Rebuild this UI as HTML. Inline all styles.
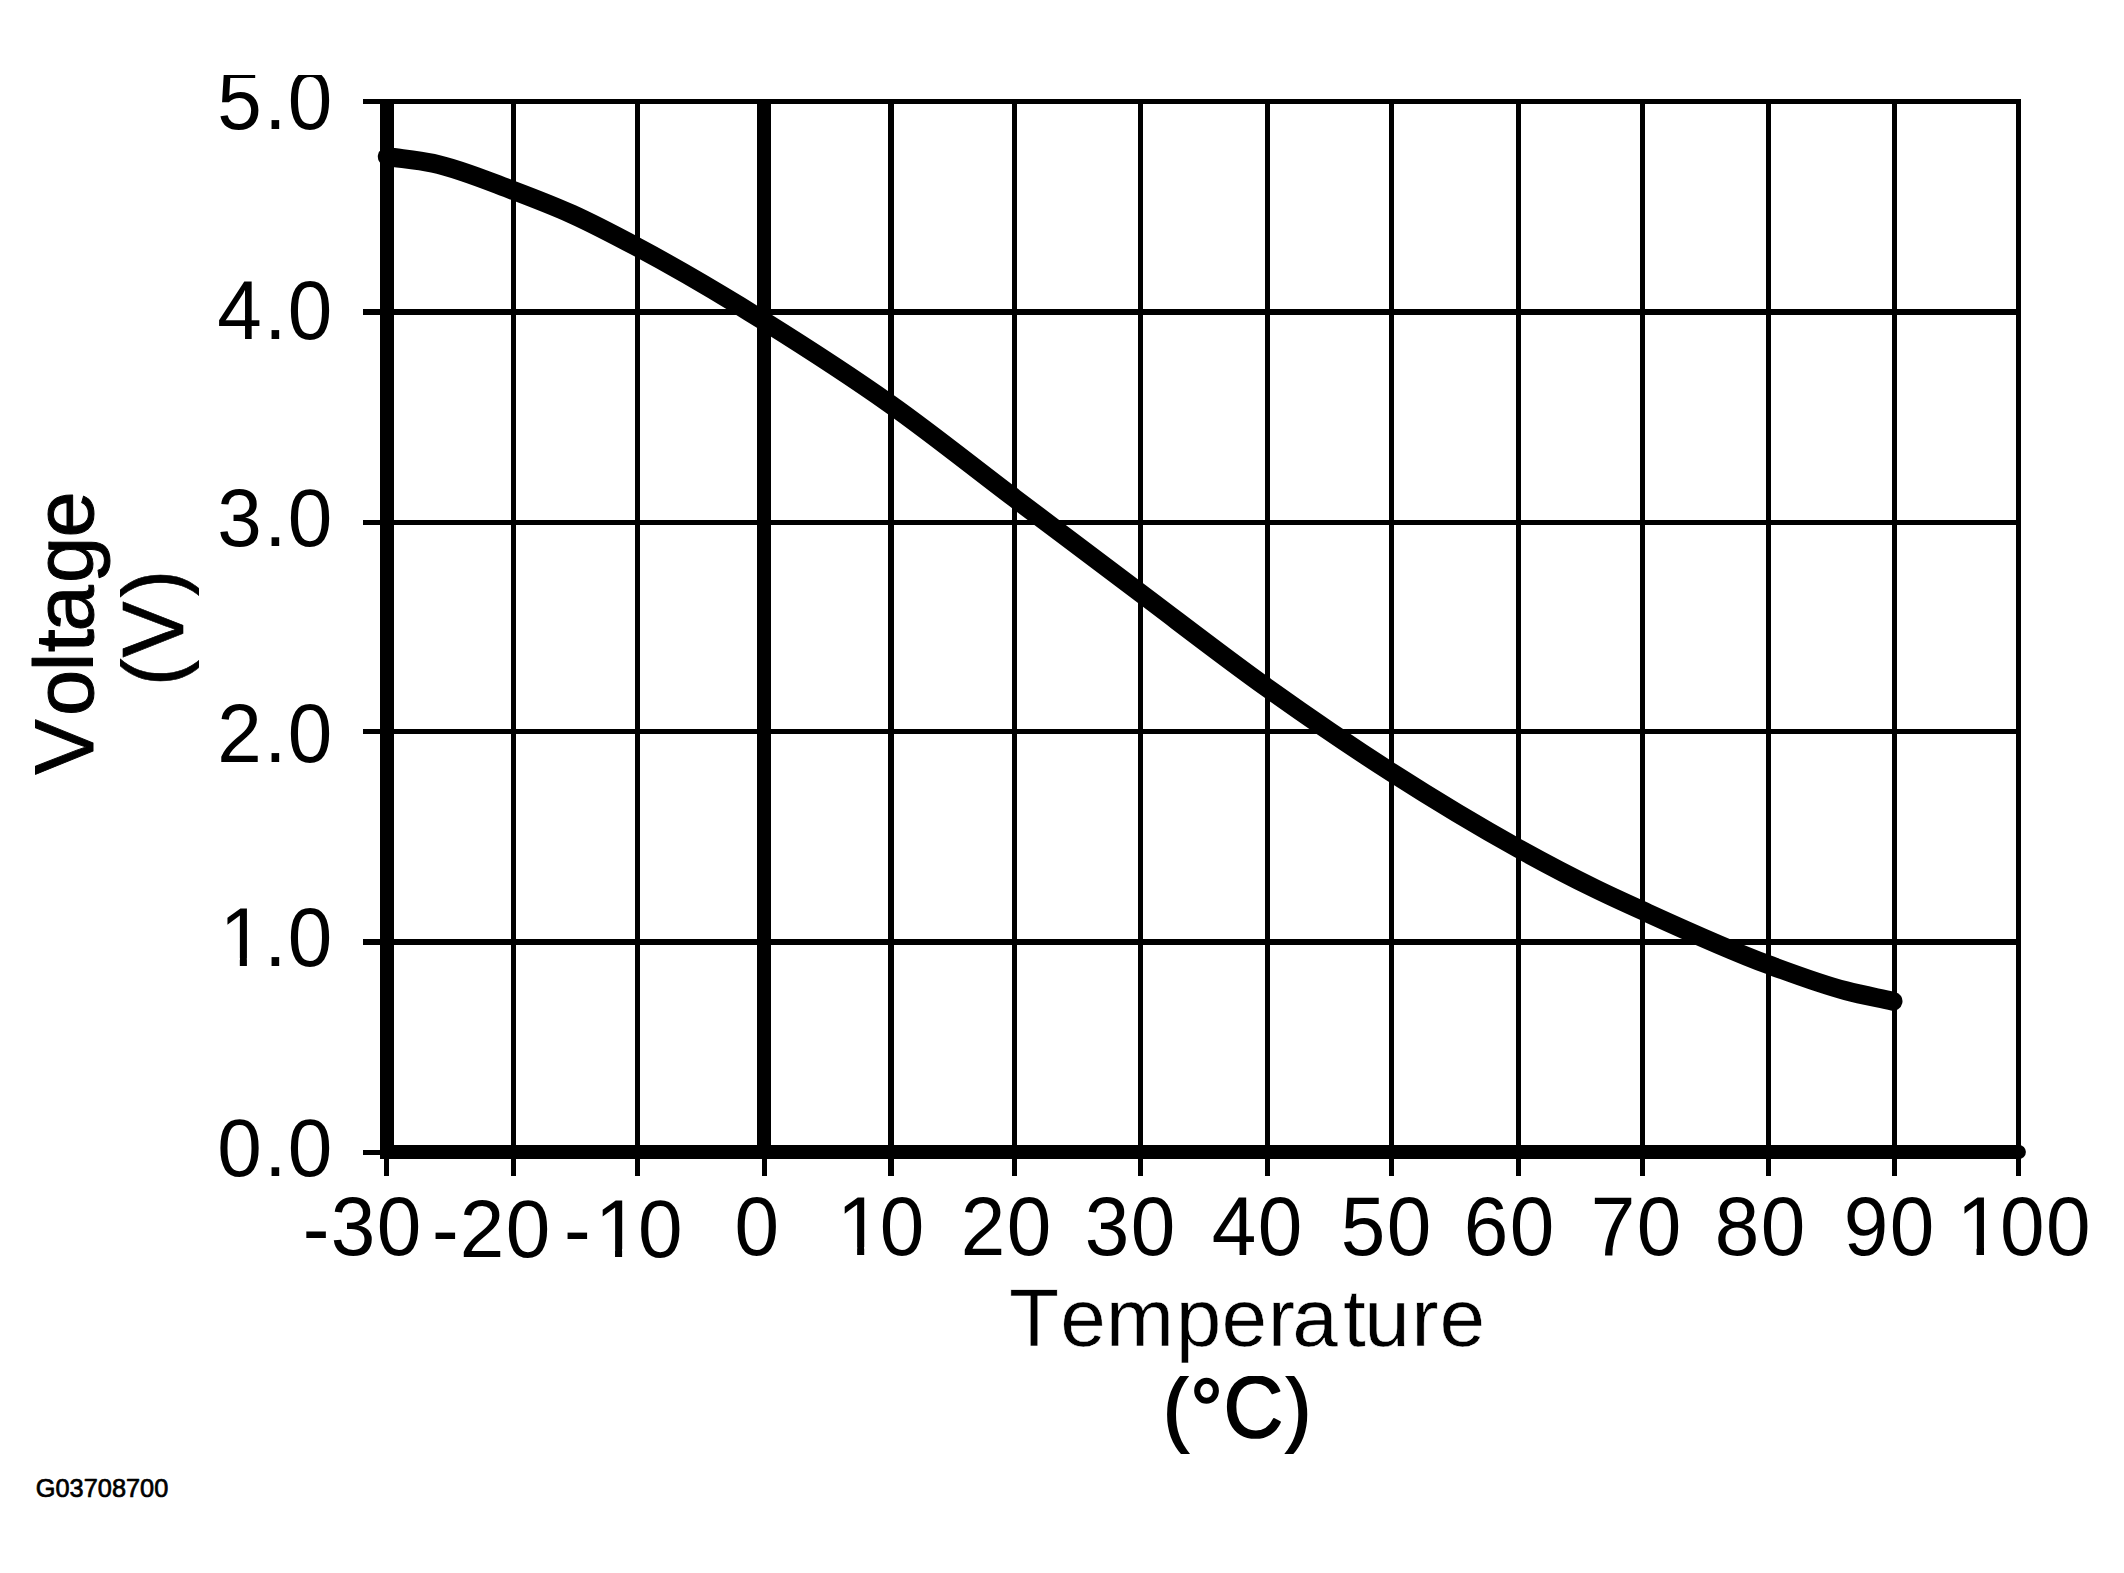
<!DOCTYPE html>
<html lang="en"><head><meta charset="utf-8"><title>Voltage vs Temperature</title>
<style>
html,body{margin:0;padding:0;background:#fff;}
body{width:2124px;height:1573px;}
svg{display:block;}
text{font-family:"Liberation Sans",Arial,Helvetica,sans-serif;fill:#000;font-kerning:none;font-variant-ligatures:none;}
.ax{font-size:82.70px;}
.b{stroke:#000;stroke-linejoin:round;}
</style></head><body>
<svg width="2124" height="1573" viewBox="0 0 2124 1573">
<rect x="0" y="0" width="2124" height="1573" fill="#fff"/>
<defs>
<clipPath id="c1"><rect x="0" y="75" width="2124" height="1400"/></clipPath>
<clipPath id="c2"><rect x="1100" y="1376" width="300" height="78"/></clipPath>
<clipPath id="c3"><rect x="120" y="500" width="79" height="300"/></clipPath>
</defs>
<g fill="#000" shape-rendering="crispEdges">
<rect x="363" y="99" width="1658" height="5"/>
<rect x="363" y="309" width="1658" height="6"/>
<rect x="363" y="520" width="1658" height="5"/>
<rect x="363" y="729" width="1658" height="5"/>
<rect x="363" y="939" width="1658" height="6"/>
<rect x="363" y="1150" width="31" height="5"/>
<rect x="511" y="99" width="5" height="1077"/>
<rect x="635" y="99" width="5" height="1077"/>
<rect x="888" y="99" width="6" height="1077"/>
<rect x="1012" y="99" width="5" height="1077"/>
<rect x="1138" y="99" width="5" height="1077"/>
<rect x="1265" y="99" width="5" height="1077"/>
<rect x="1389" y="99" width="5" height="1077"/>
<rect x="1516" y="99" width="5" height="1077"/>
<rect x="1640" y="99" width="5" height="1077"/>
<rect x="1766" y="99" width="5" height="1077"/>
<rect x="1892" y="99" width="5" height="1077"/>
<rect x="2016" y="99" width="5" height="1077"/>
<rect x="380" y="99" width="14" height="1060"/>
<rect x="757" y="99" width="14" height="1060"/>
<rect x="384" y="1158" width="5" height="18"/>
<rect x="762" y="1158" width="5" height="18"/>
</g>
<line x1="387" y1="1152" x2="2018.9" y2="1152" stroke="#000" stroke-width="14" stroke-linecap="round"/>
<path d="M387.3 156.6 C402.5 158.8 417.8 159.9 433.0 163.2 C459.9 169.0 486.7 180.5 513.6 190.6 C532.9 197.9 552.3 205.3 571.6 214.0 C593.5 223.9 615.5 235.5 637.4 247.2 C671.6 265.4 705.8 285.3 740.0 306.2 C748.0 311.1 755.9 316.0 763.9 321.0 C806.3 347.5 848.6 374.7 891.0 404.7 C932.1 433.8 973.2 467.0 1014.3 498.0 C1056.3 529.7 1098.4 561.4 1140.4 593.0 C1182.7 624.8 1225.1 657.8 1267.4 688.0 C1308.7 717.5 1350.1 745.8 1391.4 772.3 C1433.7 799.4 1476.1 825.1 1518.4 848.5 C1543.9 862.6 1569.4 876.1 1594.9 888.5 C1610.8 896.3 1626.7 903.5 1642.6 910.7 C1684.5 929.8 1726.5 949.1 1768.4 964.7 C1794.3 974.3 1820.1 984.0 1846.0 990.8 C1861.7 994.9 1877.3 997.7 1893.0 1001.2" fill="none" stroke="#000" stroke-width="19" stroke-linecap="round" stroke-linejoin="round"/>
<g clip-path="url(#c1)">
<text class="ax" x="224.50 273.08 297.20" y="0 0 0" transform="translate(0,129.00) scale(0.9680,1.0000)">5.0</text>
<text class="ax" x="224.50 273.08 297.20" y="0 0 0" transform="translate(0,339.00) scale(0.9680,1.0036)">4.0</text>
<text class="ax" x="224.50 273.08 297.20" y="0 0 0" transform="translate(0,546.20) scale(0.9680,0.9952)">3.0</text>
<text class="ax" x="224.50 273.08 297.20" y="0 0 0" transform="translate(0,762.10) scale(0.9680,1.0036)">2.0</text>
<text class="ax" x="226.96 273.08 297.20" y="0 0 0" transform="translate(0,966.20) scale(0.9680,1.0036)">1.0</text>
<text class="ax" x="224.50 273.08 297.20" y="0 0 0" transform="translate(0,1176.00) scale(0.9680,0.9915)">0.0</text>
</g>
<text class="ax" x="312.87 341.63 389.14" y="1.385 0 0" transform="translate(0,1255.20) scale(0.9680,1.0109)">-30</text>
<text class="ax" x="446.29 475.05 522.56" y="1.419 0 0" transform="translate(0,1257.00) scale(0.9680,0.9867)">-20</text>
<text class="ax" x="582.71 614.56 658.98" y="1.419 0 0" transform="translate(0,1257.00) scale(0.9680,0.9867)">-10</text>
<text class="ax" x="758.77" y="0" transform="translate(0,1255.20) scale(0.9680,1.0109)">0</text>
<text class="ax" x="864.66 908.87" y="0 0" transform="translate(0,1255.20) scale(0.9680,1.0109)">10</text>
<text class="ax" x="992.56 1040.07" y="0 0" transform="translate(0,1255.20) scale(0.9680,1.0109)">20</text>
<text class="ax" x="1120.66 1168.17" y="0 0" transform="translate(0,1255.20) scale(0.9680,1.0109)">30</text>
<text class="ax" x="1251.70 1299.21" y="0 0" transform="translate(0,1255.20) scale(0.9680,1.0109)">40</text>
<text class="ax" x="1385.02 1432.53" y="0 0" transform="translate(0,1255.20) scale(0.9680,1.0109)">50</text>
<text class="ax" x="1512.19 1559.70" y="0 0" transform="translate(0,1255.20) scale(0.9680,1.0109)">60</text>
<text class="ax" x="1643.28 1690.79" y="0 0" transform="translate(0,1255.20) scale(0.9680,1.0109)">70</text>
<text class="ax" x="1771.48 1819.00" y="0 0" transform="translate(0,1255.20) scale(0.9680,1.0109)">80</text>
<text class="ax" x="1904.75 1952.26" y="0 0" transform="translate(0,1255.20) scale(0.9680,1.0109)">90</text>
<text class="ax" x="2021.48 2066.01 2113.52" y="0 0 0" transform="translate(0,1255.20) scale(0.9680,1.0109)">100</text>
<g fill="#fff">
<rect x="224.3" y="957.999" width="15.53" height="9.701"/>
<rect x="246.9" y="957.999" width="14.91" height="9.701"/>
<rect x="599.5" y="1248.9" width="15.53" height="9.596"/>
<rect x="622.1" y="1248.9" width="14.91" height="9.596"/>
<rect x="841.6" y="1246.95" width="15.53" height="9.746"/>
<rect x="864.2" y="1246.95" width="14.91" height="9.746"/>
<rect x="1961" y="1246.95" width="15.53" height="9.746"/>
<rect x="1984" y="1246.95" width="14.91" height="9.746"/>
</g>
<text x="1008.98 1060.33 1105.78 1175.78 1221.38 1267.85 1292.36 1342.89 1364.31 1411.35 1439.43" y="1346.35" font-size="82.00" stroke="#fff" stroke-width="0.5">Temperature</text>
<g clip-path="url(#c2)"><text class="b" stroke-width="1.6" x="1162.84 1189.96 1223.53 1284.04" y="0 2.2 0 0" transform="translate(0,1437.20) scale(1,1.0628)" font-size="82.80">(°C)</text></g>
<text class="b" stroke-width="1" x="-774.79 -716.06 -671.20 -652.18 -631.45 -583.05 -537.55" y="0" transform="translate(93.00,0) rotate(-90)" font-size="83.20">Voltage</text>
<g clip-path="url(#c3)"><text class="b" stroke-width="0.6" x="-686.16 -657.55 -597.64" y="0" transform="translate(182.60,0) rotate(-90) scale(1,1.0404)" font-size="84.10">(V)</text></g>
<text class="b" stroke-width="0.7" transform="translate(35.83,1497.45) scale(1,1.0497)" font-size="25.34">G03708700</text>
</svg>
</body></html>
